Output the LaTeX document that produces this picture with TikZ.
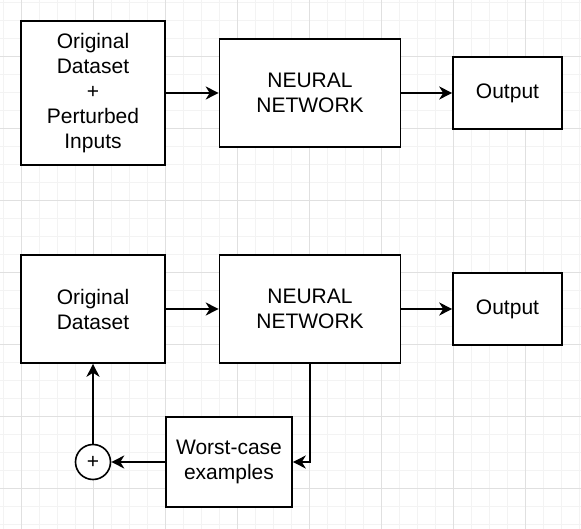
\documentclass[tikz,border=0pt]{standalone}
\usepackage{fontspec}
\setmainfont{Liberation Sans}
\usetikzlibrary{arrows.meta}
\definecolor{gridminor}{HTML}{F3F3F3}
\definecolor{gridmajor}{HTML}{E0E0E0}
\tikzset{
  box/.style={draw=black, line width=1.6pt, fill=white, rectangle, inner sep=0pt, align=center,
    font=\fontsize{21}{25}\selectfont},
  sumnode/.style={draw=black, line width=1.6pt, fill=white, circle, minimum size=35pt, inner sep=0pt,
    font=\fontsize{21}{25}\selectfont},
  conn/.style={line width=1.6pt, -{Stealth[length=13pt,width=13pt,inset=4pt]}},
}
\begin{document}
\begin{tikzpicture}[x=1pt,y=-1pt]
\useasboundingbox (0,0) rectangle (581,529);
\fill[white] (0,0) rectangle (581,529);
% grid
\foreach \i in {0,...,32} {
  \draw[gridminor, line width=0.8pt] (3.3+18*\i,0) -- (3.3+18*\i,529);
}
\foreach \i in {0,...,29} {
  \draw[gridminor, line width=0.8pt] (0,2.3+18*\i) -- (581,2.3+18*\i);
}
\foreach \i in {0,...,8} {
  \draw[gridmajor, line width=0.8pt] (21.3+72*\i,0) -- (21.3+72*\i,529);
}
\foreach \i in {0,...,7} {
  \draw[gridmajor, line width=0.8pt] (0,56.3+72*\i) -- (581,56.3+72*\i);
}
% top row
\node[box, minimum width=144pt, minimum height=144pt] (tl) at (93,93) {Original\\Dataset\\+\\Perturbed\\Inputs};
\node[box, minimum width=181pt, minimum height=108pt] (nn1) at (310,93) {NEURAL\\NETWORK};
\node[box, minimum width=109pt, minimum height=72pt] (out1) at (507.5,93) {Output};
\draw[conn] (tl) -- (nn1);
\draw[conn] (nn1) -- (out1);
% bottom row
\node[box, minimum width=144pt, minimum height=108pt] (bl) at (93,309) {Original\\Dataset};
\node[box, minimum width=181pt, minimum height=108pt] (nn2) at (310,309) {NEURAL\\NETWORK};
\node[box, minimum width=109pt, minimum height=72pt] (out2) at (507.5,309) {Output};
\node[box, minimum width=126pt, minimum height=90pt] (wc) at (229,462) {Worst-case\\examples};
\node[sumnode] (sum) at (93,462) {+};
\draw[conn] (bl) -- (nn2);
\draw[conn] (nn2) -- (out2);
\draw[conn] (nn2.south) |- (wc.east);
\draw[conn] (wc) -- (sum);
\draw[conn] (sum) -- (bl);
\end{tikzpicture}
\end{document}
